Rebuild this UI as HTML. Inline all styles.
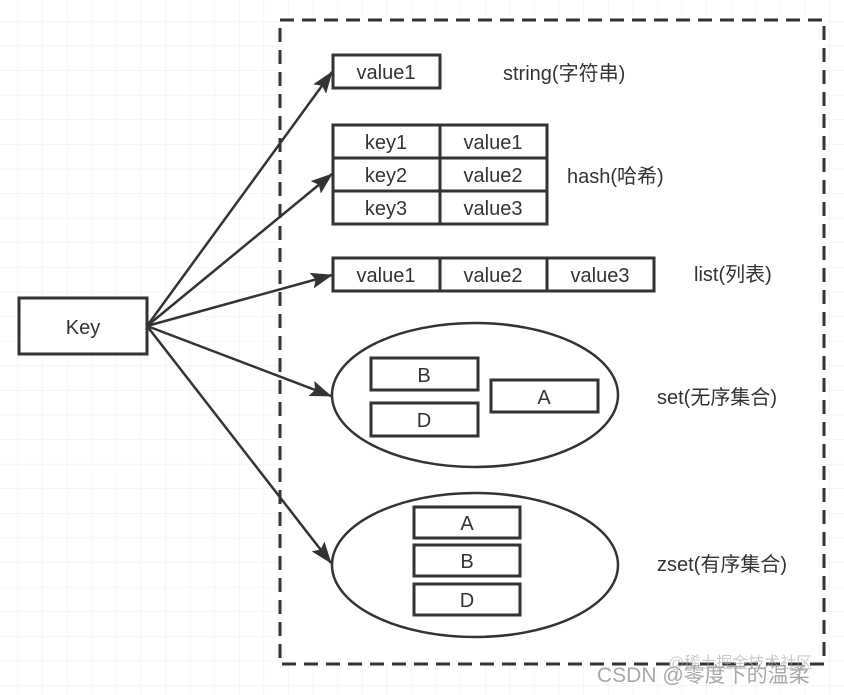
<!DOCTYPE html>
<html><head><meta charset="utf-8"><style>
html,body{margin:0;padding:0;background:#fff;}
svg{display:block;}
text{font-family:"Liberation Sans","Noto Sans CJK SC",sans-serif;font-size:20px;fill:#333;}
</style></head><body>
<svg width="844" height="695" viewBox="0 0 844 695" xmlns="http://www.w3.org/2000/svg">
<defs>
<pattern id="g" x="-6.5" y="-3" width="24.6" height="24.6" patternUnits="userSpaceOnUse">
<path d="M24.6 0V24.6M0 24.6H24.6" stroke="#ececec" stroke-width="1" fill="none"/>
</pattern>
<marker id="ar" markerWidth="22" markerHeight="16" refX="21" refY="8" orient="auto" markerUnits="userSpaceOnUse">
<path d="M0,0 L22,8 L0,16 L4,8 Z" fill="#333"/>
</marker>
</defs>
<rect width="844" height="695" fill="url(#g)"/>
<rect x="280" y="20" width="544" height="644" fill="#fff" stroke="#333" stroke-width="3" stroke-dasharray="14,8"/>
<g stroke="#333" stroke-width="2.5" fill="none">
<line x1="147" y1="326" x2="332" y2="72" marker-end="url(#ar)"/>
<line x1="147" y1="326" x2="332" y2="174" marker-end="url(#ar)"/>
<line x1="147" y1="326" x2="332" y2="275" marker-end="url(#ar)"/>
<line x1="147" y1="326" x2="331" y2="396" marker-end="url(#ar)"/>
<line x1="147" y1="326" x2="331" y2="563" marker-end="url(#ar)"/>
</g>
<g stroke="#333" stroke-width="3" fill="#fff">
<rect x="19" y="298" width="128" height="56"/>
<rect x="333" y="55" width="107" height="33"/>
<rect x="333" y="125" width="107" height="33"/><rect x="440" y="125" width="107" height="33"/>
<rect x="333" y="158" width="107" height="33"/><rect x="440" y="158" width="107" height="33"/>
<rect x="333" y="191" width="107" height="33"/><rect x="440" y="191" width="107" height="33"/>
<rect x="333" y="258" width="107" height="33"/><rect x="440" y="258" width="107" height="33"/><rect x="547" y="258" width="107" height="33"/>
</g>
<g stroke="#333" stroke-width="2.5" fill="#fff">
<ellipse cx="475" cy="395" rx="143" ry="72"/>
<ellipse cx="475" cy="565" rx="143" ry="72"/>
</g>
<g stroke="#333" stroke-width="3" fill="#fff">
<rect x="371" y="358" width="107" height="32"/>
<rect x="371" y="403" width="107" height="33"/>
<rect x="491" y="380" width="107" height="32"/>
<rect x="414" y="507" width="106" height="31"/>
<rect x="414" y="545" width="106" height="31"/>
<rect x="414" y="584" width="106" height="31"/>
</g>
<g text-anchor="middle">
<text x="83" y="334">Key</text>
<text x="386" y="79">value1</text>
<text x="386" y="149">key1</text><text x="493" y="149">value1</text>
<text x="386" y="182">key2</text><text x="493" y="182">value2</text>
<text x="386" y="215">key3</text><text x="493" y="215">value3</text>
<text x="386" y="282">value1</text><text x="493" y="282">value2</text><text x="600" y="282">value3</text>
<text x="424" y="382">B</text><text x="424" y="427">D</text><text x="544" y="404">A</text>
<text x="467" y="530">A</text><text x="467" y="568">B</text><text x="467" y="607">D</text>
</g>
<text x="503" y="80">string(字符串)</text>
<text x="567" y="183">hash(哈希)</text>
<text x="694" y="281">list(列表)</text>
<text x="657" y="404">set(无序集合)</text>
<text x="657" y="571">zset(有序集合)</text>
<text x="597" y="682" style="font-size:21px;fill:#999;opacity:0.85">CSDN @零度下的温柔</text>
<text x="668" y="668" style="font-size:16px;fill:#aaa;opacity:0.6">@稀土掘金技术社区</text>
</svg>
</body></html>
